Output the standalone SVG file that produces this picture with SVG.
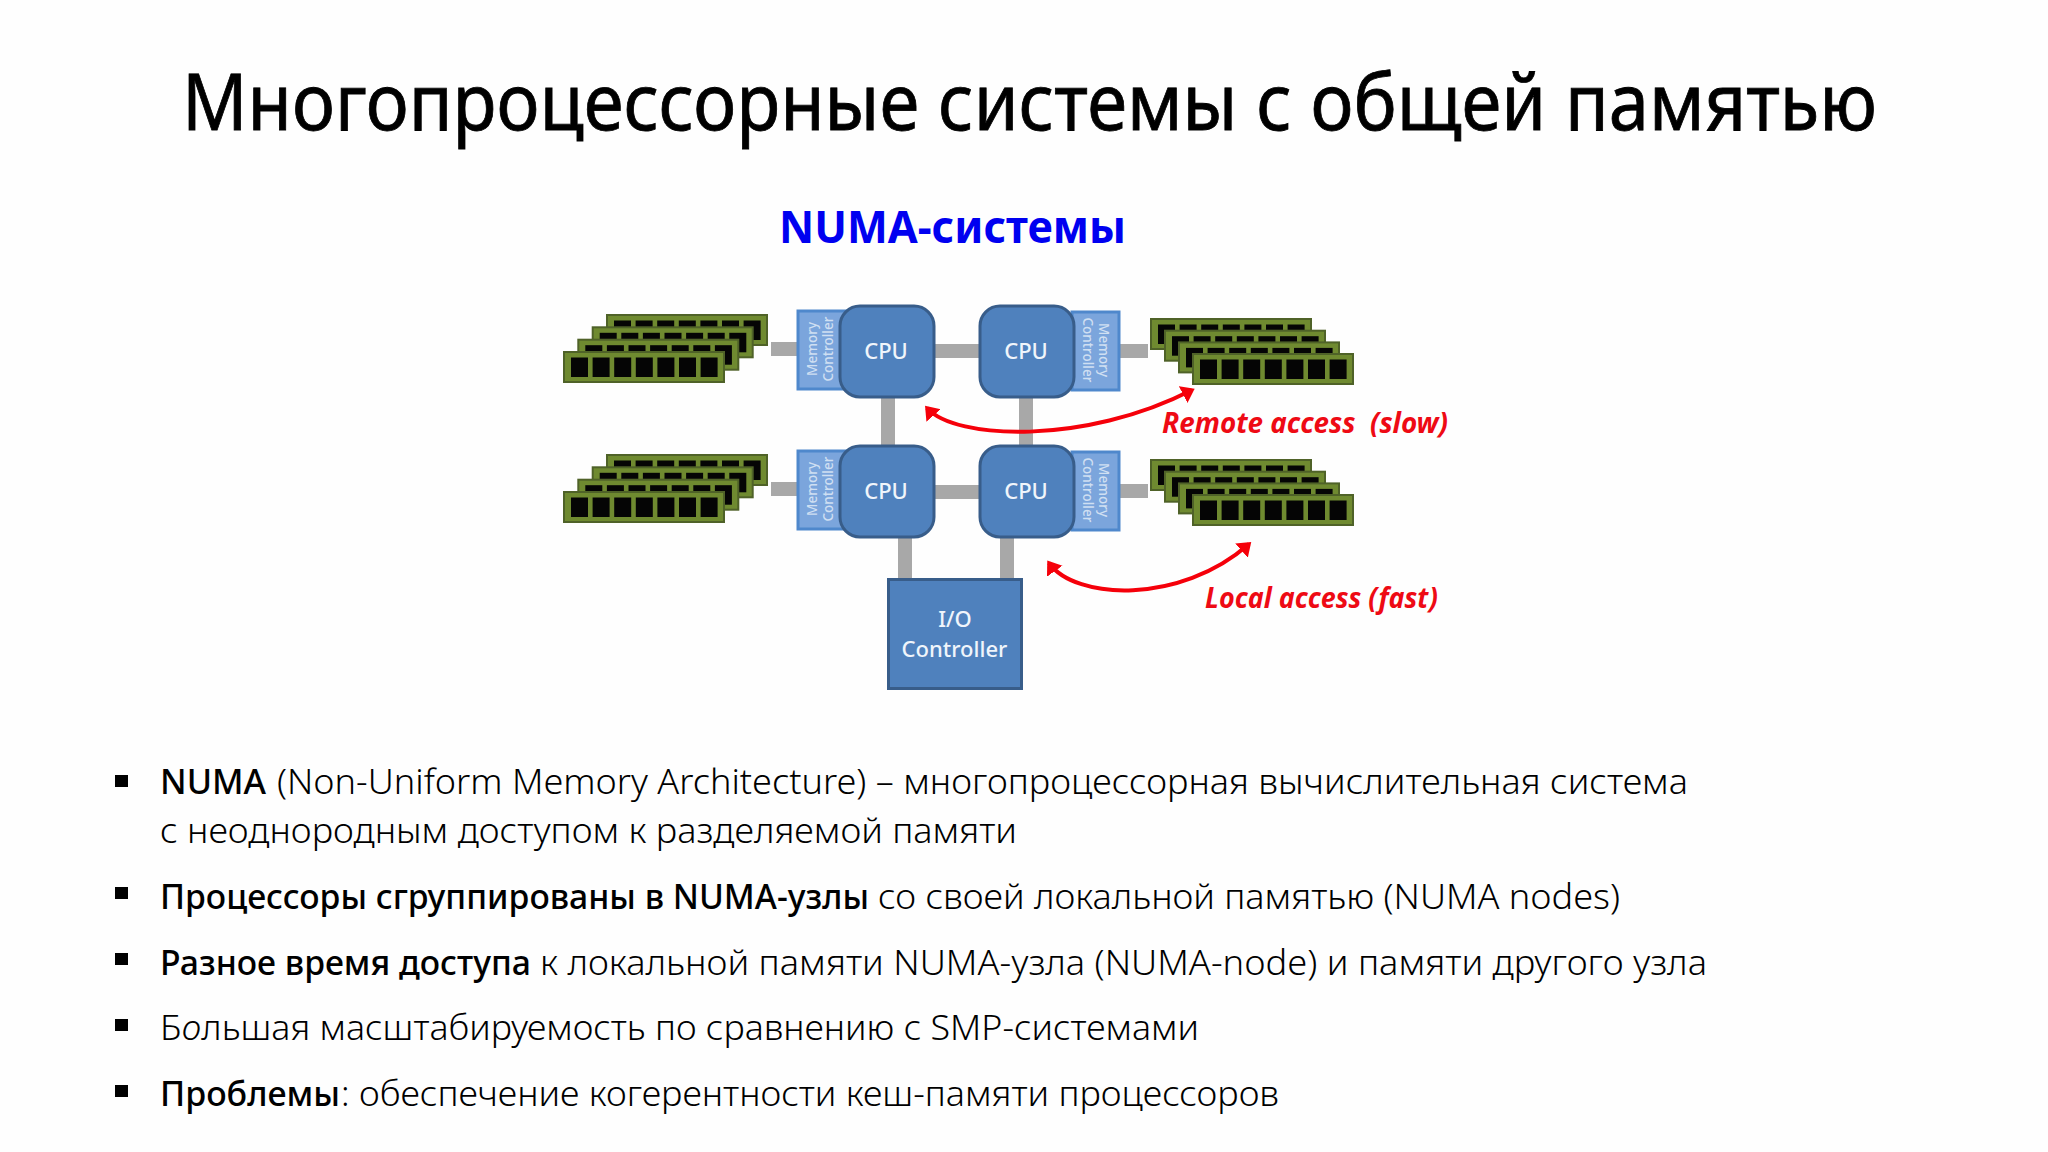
<svg xmlns="http://www.w3.org/2000/svg" width="2048" height="1152" viewBox="0 0 2048 1152">
<style>
text{font-family:"Noto Sans","Open Sans","DejaVu Sans",sans-serif;white-space:pre}
.title{font-size:78px;fill:#000;stroke:#000;stroke-width:.8}
.sub{font-size:45px;font-weight:700;fill:#0000f0}
.b{font-size:35px;fill:#000;font-weight:300}
.bb{font-size:35px;fill:#000;font-weight:500}
.rd{font-size:28px;font-weight:700;font-style:italic;fill:#ee0a14}
.bar{stroke:#a8a8a8;stroke-width:14;fill:none}
.arc{stroke:#f5000a;stroke-width:4;fill:none;marker-start:url(#ah);marker-end:url(#ah)}
.cpu{fill:#4f81bd;stroke:#385d8a;stroke-width:3}
.mc{fill:#7ba5dc;stroke:#4f88cc;stroke-width:3}
.t{fill:#f0f5fb;font-size:22px;text-anchor:middle;font-weight:500}
.m{fill:#cfdff2;font-size:13.5px;text-anchor:middle;font-weight:500}
.bul{fill:#000}
</style>
<defs>
<marker id="ah" markerUnits="userSpaceOnUse" markerWidth="14" markerHeight="20" refX="10" refY="10" orient="auto-start-reverse"><path d="M0,0.500 L13,10 L0,19.500 Z" fill="#f5000a"/></marker>
<g id="dimm">
<rect x="0" y="0" width="160" height="30" fill="#6f8a30" stroke="#4f6228" stroke-width="2"/>
<g fill="#050505">
<rect x="7" y="5.500" width="17" height="19.500"/><rect x="28.600" y="5.500" width="17" height="19.500"/><rect x="50.200" y="5.500" width="17" height="19.500"/><rect x="71.800" y="5.500" width="17" height="19.500"/><rect x="93.400" y="5.500" width="17" height="19.500"/><rect x="115" y="5.500" width="17" height="19.500"/><rect x="136.600" y="5.500" width="17" height="19.500"/>
</g>
</g>
<g id="stackL"><use href="#dimm" x="43" y="-37"/><use href="#dimm" x="28.700" y="-24.700"/><use href="#dimm" x="14.300" y="-12.300"/><use href="#dimm"/></g>
<g id="stackR"><use href="#dimm"/><use href="#dimm" x="14" y="11.700"/><use href="#dimm" x="28" y="23.400"/><use href="#dimm" x="42" y="35"/></g>
</defs>
<rect width="2048" height="1152" fill="#fefefe"/>

<text id="title" class="title" x="182" y="130" textLength="1695" lengthAdjust="spacingAndGlyphs">Многопроцессорные системы с общей памятью</text>
<text id="subtitle" class="sub" x="779" y="243" textLength="347" lengthAdjust="spacingAndGlyphs">NUMA-системы</text>

<g id="connectors">
<path class="bar" d="M771 349H800M771 489H800M934 351H980M934 492H980M888 397V446M1026 397V446M905 537V580M1007 537V580M1118 351H1148M1118 491H1148"/>
<path class="arc" d="M927 408C955 440 1085 445 1192 390"/>
<path class="arc" d="M1049 563C1075 600 1180 605 1249 544"/>
</g>

<g id="mem1"><use href="#stackL" x="564" y="352"/></g>
<g id="mem2"><use href="#stackR" x="1151" y="319"/></g>
<g id="mem3"><use href="#stackL" x="564" y="492"/></g>
<g id="mem4"><use href="#stackR" x="1151" y="460"/></g>

<g id="cpu1">
<rect class="mc" x="798" y="311" width="50" height="78"/>
<text class="m" transform="translate(817,349) rotate(-90)">Memory</text>
<text class="m" transform="translate(833,349) rotate(-90)">Controller</text>
<rect class="cpu" x="840" y="306" width="94" height="91" rx="20"/>
<text class="t" x="886" y="359">CPU</text>
</g>
<g id="cpu2">
<rect class="mc" x="1072" y="312" width="47" height="78"/>
<text class="m" transform="translate(1083,350) rotate(90)">Controller</text>
<text class="m" transform="translate(1099,350) rotate(90)">Memory</text>
<rect class="cpu" x="980" y="306" width="94" height="91" rx="20"/>
<text class="t" x="1026" y="359">CPU</text>
</g>
<g id="cpu3">
<rect class="mc" x="798" y="451" width="50" height="78"/>
<text class="m" transform="translate(817,489) rotate(-90)">Memory</text>
<text class="m" transform="translate(833,489) rotate(-90)">Controller</text>
<rect class="cpu" x="840" y="446" width="94" height="91" rx="20"/>
<text class="t" x="886" y="499">CPU</text>
</g>
<g id="cpu4">
<rect class="mc" x="1072" y="452" width="47" height="78"/>
<text class="m" transform="translate(1083,490) rotate(90)">Controller</text>
<text class="m" transform="translate(1099,490) rotate(90)">Memory</text>
<rect class="cpu" x="980" y="446" width="94" height="91" rx="20"/>
<text class="t" x="1026" y="499">CPU</text>
</g>
<g id="io">
<rect class="cpu" x="888.500" y="579.500" width="133" height="109"/>
<text class="t" x="955" y="627">I/O</text>
<text class="t" x="954.500" y="657">Controller</text>
</g>

<text class="rd" x="1162" y="433" textLength="286" lengthAdjust="spacingAndGlyphs">Remote access  (slow)</text>
<text class="rd" x="1205" y="608" textLength="233" lengthAdjust="spacingAndGlyphs">Local access (fast)</text>

<g id="bullets" class="bul">
<rect x="115" y="775" width="13" height="12"/>
<rect x="115" y="887" width="13" height="12"/>
<rect x="115" y="953" width="13" height="12"/>
<rect x="115" y="1019" width="13" height="12"/>
<rect x="115" y="1085" width="13" height="12"/>
</g>
<g id="body">
<text class="bb" x="160" y="794" textLength="106" lengthAdjust="spacingAndGlyphs">NUMA</text>
<text class="b" x="277" y="794" textLength="1411" lengthAdjust="spacingAndGlyphs">(Non-Uniform Memory Architecture) – многопроцессорная вычислительная система</text>
<text class="b" x="160" y="843" textLength="857" lengthAdjust="spacingAndGlyphs">с неоднородным доступом к разделяемой памяти</text>
<text class="bb" x="160" y="909" textLength="709" lengthAdjust="spacingAndGlyphs">Процессоры сгруппированы в NUMA-узлы</text>
<text class="b" x="878" y="909" textLength="742" lengthAdjust="spacingAndGlyphs">со своей локальной памятью (NUMA nodes)</text>
<text class="bb" x="160" y="975" textLength="371" lengthAdjust="spacingAndGlyphs">Разное время доступа</text>
<text class="b" x="540" y="975" textLength="1167" lengthAdjust="spacingAndGlyphs">к локальной памяти NUMA-узла (NUMA-node) и памяти другого узла</text>
<text class="b" x="160" y="1040" textLength="1039" lengthAdjust="spacingAndGlyphs">Б<tspan font-style="italic">о</tspan>льшая масштабируемость по сравнению с SMP-системами</text>
<text class="bb" x="160" y="1106" textLength="180" lengthAdjust="spacingAndGlyphs">Проблемы</text>
<text class="b" x="341" y="1106">:</text>
<text class="b" x="359" y="1106" textLength="920" lengthAdjust="spacingAndGlyphs">обеспечение когерентности кеш-памяти процессоров</text>
</g>
</svg>
